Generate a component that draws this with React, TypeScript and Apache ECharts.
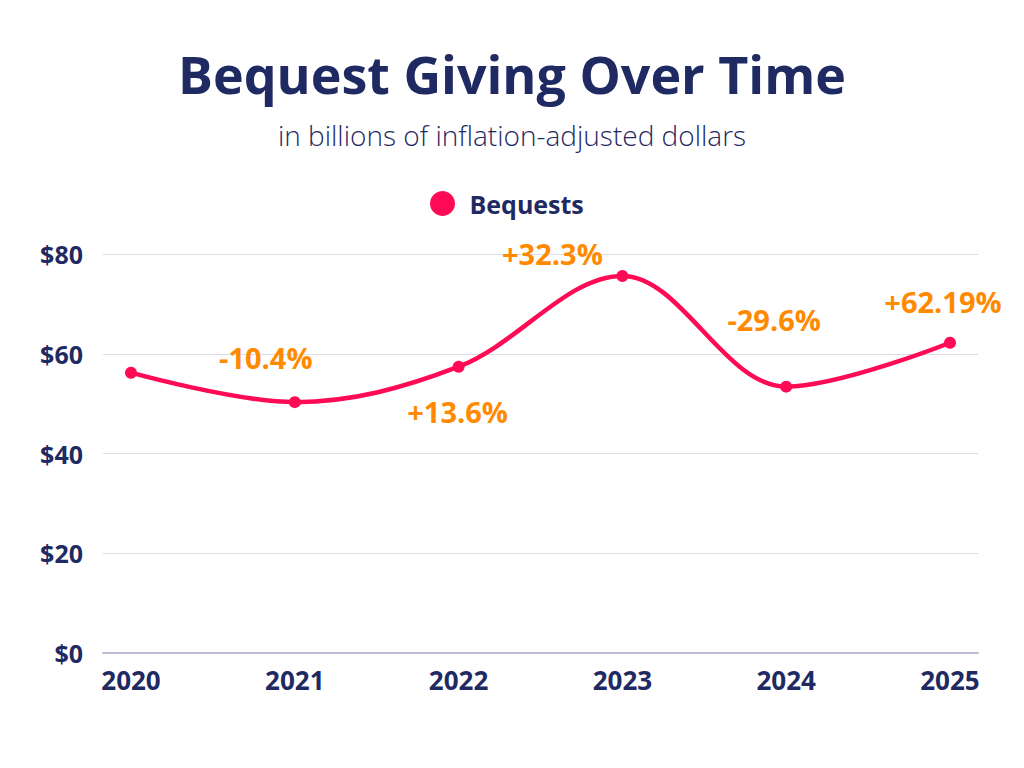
import React, { useEffect, useRef } from "react";
import * as echarts from "echarts";

const years = [2020, 2021, 2022, 2023, 2024, 2025];
const bequests = [56.2, 50.3, 57.4, 75.6, 53.4, 62.2];
const changeLabels = ["", "-10.4%", "+13.6%", "+32.3%", "-29.6%", "+62.19%"];
const yTicks = [0, 20, 40, 60, 80];

const labelOffsets: [number, number][] = [
  [0, 0],
  [-29, -45],
  [-1, 45],
  [-70, -22],
  [-12, -67],
  [-7, -41],
];

const NAVY = "#1f2a62";
const PINK = "#ff0a54";
const ORANGE = "#ff8a00";
const FONT = "Open Sans";

export default function App() {
  const ref = useRef<HTMLDivElement>(null);
  useEffect(() => {
    if (!ref.current) return;
    const chart = echarts.init(ref.current, undefined, { renderer: "svg" });
    const data = years.map((y, i) => ({
      value: [y, bequests[i]],
      label: {
        show: changeLabels[i] !== "",
        formatter: changeLabels[i],
        position: "inside",
        offset: labelOffsets[i],
        color: ORANGE,
        fontSize: 29,
        fontWeight: "bold",
        fontFamily: FONT,
      },
    }));
    chart.setOption({
      animation: false,
      backgroundColor: "#ffffff",
      title: [
        {
          text: "Bequest Giving Over Time",
          left: "center",
          top: 42,
          textStyle: { color: NAVY, fontSize: 52, fontWeight: "bold", fontFamily: FONT },
        },
        {
          text: "in billions of inflation-adjusted dollars",
          left: "center",
          top: 116,
          textStyle: { color: NAVY, fontSize: 28, fontWeight: 300, fontFamily: FONT },
        },
      ],
      legend: {
        data: ["Bequests"],
        top: 186,
        left: 425,
        icon: "circle",
        itemWidth: 44,
        itemHeight: 25,
        itemGap: 10,
        textStyle: { color: NAVY, fontSize: 25, fontWeight: "bold", fontFamily: FONT },
      },
      grid: { left: 103, right: 46, top: 254, bottom: 115, containLabel: false },
      xAxis: {
        type: "value",
        min: 2019.829,
        max: 2025.171,
        axisLine: { show: true, lineStyle: { color: "#bcbfd3", width: 2 } },
        axisTick: { show: false },
        splitLine: { show: false },
        axisLabel: {
          customValues: years,
          formatter: (v: number) => String(v),
          color: NAVY,
          fontSize: 26,
          fontWeight: "bold",
          fontFamily: FONT,
          margin: 14,
        },
      },
      yAxis: {
        type: "value",
        min: 0,
        max: 80,
        interval: 20,
        axisLine: { show: false },
        axisTick: { show: false },
        splitLine: { lineStyle: { color: "#dcdce8", width: 1 } },
        axisLabel: {
          customValues: yTicks,
          formatter: (v: number) => "$" + v,
          color: NAVY,
          fontSize: 25,
          fontWeight: "bold",
          fontFamily: FONT,
          margin: 20,
        },
      },
      series: [
        {
          name: "Bequests",
          type: "line",
          smooth: 0.35,
          data,
          symbol: "circle",
          symbolSize: 12,
          itemStyle: { color: PINK },
          lineStyle: { color: PINK, width: 4.5 },
        },
      ],
    });
    return () => chart.dispose();
  }, []);
  return (
    <div
      ref={ref}
      style={{ position: "absolute", left: 0, top: 0, width: 1024, height: 768 }}
    />
  );
}
